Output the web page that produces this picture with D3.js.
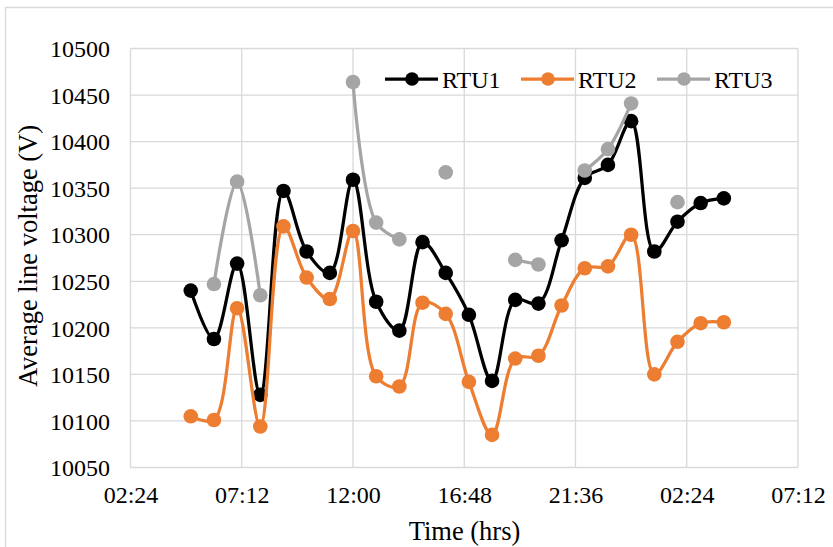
<!DOCTYPE html>
<html>
<head>
<meta charset="utf-8">
<script src="https://cdn.jsdelivr.net/npm/d3@7/dist/d3.min.js"></script>
<style>
  html, body { margin: 0; padding: 0; background: #fff; }
  svg { display: block; }
  svg text { font-family: "Liberation Serif", "Times New Roman", serif; fill: #000; }
</style>
</head>
<body>
<svg id="chart" width="833" height="547"></svg>
<script>
// ---- data (time in hours; values in volts) ----
const hours = [5, 6, 7, 8, 9, 10, 11, 12, 13, 14, 15, 16, 17, 18, 19, 20, 21, 22, 23, 24, 25, 26, 27, 28];
const rtu1 = [10240, 10188, 10269, 10128, 10347, 10282, 10259, 10359, 10228, 10197, 10292, 10259,
              10214, 10143, 10230, 10226, 10294, 10361, 10375, 10422, 10282, 10314, 10334, 10339];
const rtu2 = [10105, 10101, 10221, 10094, 10309, 10254, 10231, 10304, 10148, 10137, 10227, 10215,
              10142, 10085, 10167, 10170, 10224, 10264, 10266, 10300, 10150, 10185, 10205, 10206];
const rtu3 = [null, 10247, 10357, 10235, null, null, null, 10464, 10313, 10295, null, 10367,
              null, null, 10273, 10268, null, 10369, 10392, 10441, null, 10335, null, null];
const seriesNames = ["RTU1", "RTU2", "RTU3"];
const xTicks = [2.4, 7.2, 12, 16.8, 21.6, 26.4, 31.2];
const yTicks = [10050, 10100, 10150, 10200, 10250, 10300, 10350, 10400, 10450, 10500];

const colors = ["#000000", "#ED7D31", "#A5A5A5"];
const seriesValues = [rtu1, rtu2, rtu3];

const svg = d3.select("#chart");
const plot = { left: 130.5, right: 798, top: 48.5, bottom: 467.5 };
const FONT = '"Liberation Serif", "Times New Roman", serif';

// outer chart border (partially visible)
svg.append("path")
  .attr("d", "M5.5,547 L5.5,7.5 L833,7.5")
  .attr("fill", "none").attr("stroke", "#d9d9d9").attr("stroke-width", 1.3);

const x = d3.scaleLinear().domain([2.4, 31.2]).range([plot.left, plot.right]);
const y = d3.scaleLinear().domain([10050, 10500]).range([plot.bottom, plot.top]);

const fmt = h => {
  const tot = Math.round(h * 60);
  const hh = Math.floor(tot / 60) % 24, mm = tot % 60;
  return String(hh).padStart(2, "0") + ":" + String(mm).padStart(2, "0");
};

// gridlines
const grid = svg.append("g");
grid.selectAll("line.h").data(yTicks).enter().append("line")
  .attr("x1", plot.left).attr("x2", plot.right)
  .attr("y1", d => y(d)).attr("y2", d => y(d))
  .attr("stroke", "#d9d9d9").attr("stroke-width", 1.3);
grid.selectAll("line.v").data(xTicks).enter().append("line")
  .attr("y1", plot.top).attr("y2", plot.bottom)
  .attr("x1", d => x(d)).attr("x2", d => x(d))
  .attr("stroke", "#d9d9d9").attr("stroke-width", 1.3);

// axes (labels only)
const yAxis = d3.axisLeft(y).tickValues(yTicks).tickFormat(d3.format("d")).tickSize(0).tickPadding(0);
const gy = svg.append("g").attr("transform", `translate(110,0)`).call(yAxis)
  .attr("font-family", null).attr("font-size", null);
gy.select(".domain").remove();
gy.selectAll("text").style("font-family", FONT).style("font-size", "24px").attr("fill", "#000")
  .attr("dy", "0.34em").attr("x", 0);

const xAxis = d3.axisBottom(x).tickValues(xTicks).tickFormat(fmt).tickSize(0).tickPadding(0);
const gx = svg.append("g").attr("transform", `translate(0,${plot.bottom})`).call(xAxis)
  .attr("font-family", null).attr("font-size", null);
gx.select(".domain").remove();
gx.selectAll("text").style("font-family", FONT).style("font-size", "24px").attr("fill", "#000")
  .attr("dy", 0).attr("y", 35.5);

// axis titles
svg.append("text").attr("transform", "translate(36.5,256) rotate(-90)")
  .attr("text-anchor", "middle").style("font-size", "26.5px").text("Average line voltage (V)");
svg.append("text").attr("x", 464.5).attr("y", 540)
  .attr("text-anchor", "middle").style("font-size", "26.5px").text("Time (hrs)");

// series
const line = d3.line()
  .defined(d => d.v !== null)
  .x(d => x(d.h)).y(d => y(d.v))
  .curve(d3.curveCatmullRom.alpha(0.5));

seriesValues.forEach((vals, i) => {
  const pts = hours.map((h, j) => ({ h, v: vals[j] }));
  const g = svg.append("g");
  g.append("path").datum(pts).attr("d", line)
    .attr("fill", "none").attr("stroke", colors[i]).attr("stroke-width", 3.25)
    .attr("stroke-linejoin", "round").attr("stroke-linecap", "round");
  g.selectAll("circle").data(pts.filter(d => d.v !== null)).enter().append("circle")
    .attr("cx", d => x(d.h)).attr("cy", d => y(d.v)).attr("r", 7.3)
    .attr("fill", colors[i]);
});

// legend
const legendX = [385, 521, 657];
const legY = 79;
seriesNames.forEach((name, i) => {
  const g = svg.append("g");
  g.append("line").attr("x1", legendX[i]).attr("x2", legendX[i] + 53)
    .attr("y1", legY).attr("y2", legY)
    .attr("stroke", colors[i]).attr("stroke-width", 3.25);
  g.append("circle").attr("cx", legendX[i] + 27).attr("cy", legY).attr("r", 6.8).attr("fill", colors[i]);
  g.append("text").attr("x", legendX[i] + 57).attr("y", 87.5).style("font-size", "24px").text(name);
});
</script>
</body>
</html>
